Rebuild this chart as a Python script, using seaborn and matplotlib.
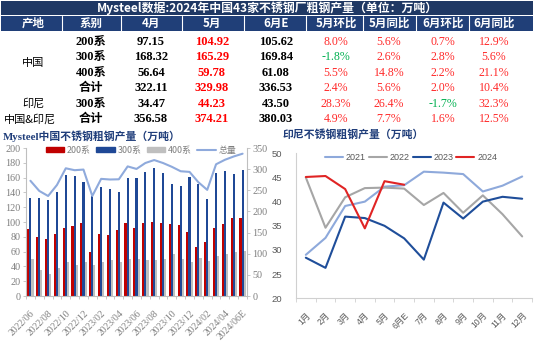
import numpy as np
import pandas as pd
import matplotlib
matplotlib.use("Agg")
import matplotlib.pyplot as plt
import seaborn as sns
from matplotlib.patches import Rectangle, Patch
from matplotlib.lines import Line2D

# ---------------- data ----------------
table_title = "Mysteel数据:2024年中国43家不锈钢厂粗钢产量（单位：万吨）"
table_headers = ["产地", "系别", "4月", "5月", "6月E", "5月环比", "5月同比", "6月环比", "6月同比"]
table_regions = ["中国", "印尼", "中国&印尼"]
table_series = ["200系", "300系", "400系", "合计", "300系", "合计"]
apr_vals = [97.15, 168.32, 56.64, 322.11, 34.47, 356.58]
may_vals = [104.92, 165.29, 59.78, 329.98, 44.23, 374.21]
jun_vals = [105.62, 169.84, 61.08, 336.53, 43.50, 380.03]
may_mom = [8.0, -1.8, 5.5, 2.4, 28.3, 4.9]
may_yoy = [5.6, 2.6, 14.8, 5.6, 26.4, 7.7]
jun_mom = [0.7, 2.8, 2.2, 2.0, -1.7, 1.6]
jun_yoy = [12.9, 5.6, 21.1, 10.4, 32.3, 12.5]

cn_title = "Mysteel中国不锈钢粗钢产量（万吨）"
cn_months = ["2022/06", "2022/07", "2022/08", "2022/09", "2022/10", "2022/11", "2022/12",
             "2023/01", "2023/02", "2023/03", "2023/04", "2023/05", "2023/06", "2023/07",
             "2023/08", "2023/09", "2023/10", "2023/11", "2023/12", "2024/01", "2024/02",
             "2024/03", "2024/04", "2024/05", "2024/06E"]
cn_200 = [90, 80, 77, 84, 92.5, 94.5, 98, 60, 84, 83, 89.5, 98, 92, 98, 100, 98, 97, 96.5,
          87, 66, 73, 91.5, 97.15, 104.92, 105.62]
cn_300 = [133, 133, 130, 140, 164, 161.5, 154.5, 135, 147, 144, 140, 159, 159, 168, 173, 166,
          152, 148, 161, 152, 131, 166, 168.32, 165.29, 169.84]
cn_400 = [49.5, 35.5, 29.5, 38.5, 45.5, 41.5, 46.5, 41.5, 46, 48.5, 46.5, 49.5, 49.5, 48.5,
          48.5, 50.5, 56.5, 50.5, 45.5, 51, 47, 54, 56.64, 59.78, 61.08]
cn_total = [272.5, 248.5, 236.5, 262.5, 302, 297.5, 299, 236.5, 277, 275.5, 276, 306.5, 300.5,
            314.5, 321.5, 314.5, 305.5, 295, 293.5, 269, 251, 311.5, 322.11, 329.98, 336.53]
cn_series = ["200系", "300系", "400系"]
cn_line_label = "总量"

id_title = "印尼不锈钢粗钢产量（万吨）"
id_months = ["1月", "2月", "3月", "4月", "5月", "6月E", "7月", "8月", "9月", "10月", "11月", "12月"]
id_years = ["2021", "2022", "2023", "2024"]
id_2021 = [29.0, 32.5, 39.1, 40.0, 43.1, 43.4, 46.2, 46.0, 45.7, 42.1, 43.3, 45.2]
id_2022 = [45.0, 34.6, 40.9, 42.8, 42.9, 42.7, 39.3, 41.8, 37.7, 41.3, 37.4, 32.8]
id_2023 = [28.4, 26.3, 36.9, 36.6, 35.0, 32.4, 28.0, 39.8, 36.5, 40.0, 41.0, 40.6]
id_2024 = [45.1, 45.3, 42.6, 34.47, 44.23, 43.50]

# ---------------- style ----------------
sns.set_theme(style="white")
CJK = ["Noto Sans CJK SC", "DejaVu Sans"]
SERIF = ["Liberation Serif", "Noto Sans CJK SC"]
SANS = ["Liberation Sans", "Noto Sans CJK SC"]
plt.rcParams["font.family"] = CJK

NAVY_T = "#1F3864"
NAVY_H = "#203F78"
TITLE_BLUE = "#1F3D7A"
RED = "#C00000"
BLUE = "#1F4896"
GRAY = "#BFBFBF"
LINE_BLUE = "#8FAADC"
TXT_GRAY = "#7F7F7F"
AX_GRAY = "#BFBFBF"

W, H = 534, 343
fig = plt.figure(figsize=(W / 100, H / 100), dpi=100)


def fx(x):
    return x / W


def fy(y):
    return 1 - y / H


def rect(x0, y0, x1, y1, color):
    fig.add_artist(Rectangle((fx(x0), fy(y1)), fx(x1) - fx(x0), fy(y0) - fy(y1),
                             transform=fig.transFigure, facecolor=color,
                             edgecolor="none", zorder=0))


def ftext(x, y, s, **kw):
    kw.setdefault("ha", "center")
    kw.setdefault("va", "center")
    fig.text(fx(x), fy(y), s, **kw)


# ---------------- table ----------------
rect(1, 0.5, 533, 14.5, NAVY_T)
rect(1, 15.5, 533, 31, NAVY_H)
ftext(267, 7.8, table_title, color="white", fontsize=8.6, fontweight="bold", family=CJK)

col_x = [33, 91, 151, 212, 276, 336, 389, 443, 494]
sep_x = [62, 121, 181.5, 244, 306, 362.5, 416, 468.5]
for sx in sep_x:
    fig.add_artist(Line2D([fx(sx), fx(sx)], [fy(15.5), fy(31)], color="white", lw=0.8,
                          transform=fig.transFigure))
for cx, h in zip(col_x, table_headers):
    ftext(cx, 23.3, h, color="white", fontsize=8.3, fontweight="bold", family=CJK)

row_y = [41.8, 57.3, 72.8, 88.3, 103.8, 119.3]
ftext(col_x[0], 63.3, table_regions[0], color="black", fontsize=8, family=CJK)
ftext(col_x[0], row_y[4], table_regions[1], color="black", fontsize=8, family=CJK)
ftext(col_x[0] - 3, row_y[5], table_regions[2], color="black", fontsize=8, family=CJK)

PCT_RED = "#FF2A2A"
PCT_GREEN = "#00B050"
for i, ry in enumerate(row_y):
    ftext(col_x[1], ry, table_series[i], color="black", fontsize=8.8, fontweight="bold", family=SERIF)
    ftext(col_x[2], ry, f"{apr_vals[i]:.2f}", color="black", fontsize=9, fontweight="bold", family=SERIF)
    ftext(col_x[3], ry, f"{may_vals[i]:.2f}", color="#FF0000", fontsize=9, fontweight="bold", family=SERIF)
    ftext(col_x[4], ry, f"{jun_vals[i]:.2f}", color="black", fontsize=9, fontweight="bold", family=SERIF)
    for cx, arr in zip(col_x[5:], [may_mom, may_yoy, jun_mom, jun_yoy]):
        v = arr[i]
        ftext(cx, ry, f"{v:.1f}%", color=PCT_GREEN if v < 0 else PCT_RED, fontsize=8.6, family=SERIF)

# ---------------- left chart ----------------
ftext(3, 136, cn_title, ha="left", color=TITLE_BLUE, fontsize=7.8, fontweight="bold", family=SERIF)

ax1 = fig.add_axes([fx(26), fy(296), (247 - 26) / W, (296 - 148) / H])
df_bar = pd.DataFrame({
    "月份": cn_months * 3,
    "产量": cn_200 + cn_300 + cn_400,
    "系列": [cn_series[0]] * len(cn_months) + [cn_series[1]] * len(cn_months) + [cn_series[2]] * len(cn_months),
})
sns.barplot(data=df_bar, x="月份", y="产量", hue="系列", order=cn_months, hue_order=cn_series,
            palette=[RED, BLUE, GRAY], width=0.72, saturation=1, errorbar=None,
            legend=False, ax=ax1, linewidth=0)
ax1.set_xlim(-0.5, len(cn_months) - 0.5)
ax1.set_ylim(0, 200)
ax1.set_yticks(np.arange(0, 201, 20))
ax1.set_xticks(np.arange(0, len(cn_months), 2))
ax1.set_xticklabels(cn_months[::2], rotation=45, ha="right", rotation_mode="anchor")
ax1.set_xticks(np.arange(-0.5, len(cn_months), 1), minor=True)
ax1.set_xlabel("")
ax1.set_ylabel("")
for s in ["top", "right"]:
    ax1.spines[s].set_visible(False)
for s in ["left", "bottom"]:
    ax1.spines[s].set_color(AX_GRAY)
    ax1.spines[s].set_linewidth(0.8)
ax1.tick_params(axis="y", left=True, length=2.5, width=0.6, color=AX_GRAY, labelcolor=TXT_GRAY,
                labelsize=7.3, pad=1.5)
ax1.tick_params(axis="x", which="major", bottom=False, labelcolor=TXT_GRAY, labelsize=7, pad=3)
ax1.tick_params(axis="x", which="minor", bottom=True, length=2.5, width=0.6, color=AX_GRAY)
for lb in ax1.get_xticklabels() + ax1.get_yticklabels():
    lb.set_fontfamily(SERIF)
ax1.grid(False)

ax2 = ax1.twinx()
sns.lineplot(x=np.arange(len(cn_months)), y=cn_total, ax=ax2, color=LINE_BLUE, linewidth=1.5)
ax2.set_ylim(0, 350)
ax2.set_yticks(np.arange(0, 351, 50))
ax2.set_xlim(-0.5, len(cn_months) - 0.5)
for s in ["top", "left", "bottom"]:
    ax2.spines[s].set_visible(False)
ax2.spines["right"].set_color(AX_GRAY)
ax2.spines["right"].set_linewidth(0.8)
ax2.tick_params(axis="y", right=True, length=2.5, width=0.6, color=AX_GRAY, labelcolor=TXT_GRAY,
                labelsize=7.3, pad=1.5)
for lb in ax2.get_yticklabels():
    lb.set_fontfamily(SERIF)
ax2.grid(False)
ax2.set_ylabel("")

handles = [Patch(color=RED), Patch(color=BLUE), Patch(color=GRAY),
           Line2D([0], [0], color=LINE_BLUE, lw=1.5)]
leg = ax2.legend(handles, cn_series + [cn_line_label], loc="center", bbox_to_anchor=(0.52, 0.985),
                 ncol=4, frameon=False, fontsize=6.4, handlelength=2.1, handleheight=0.45,
                 columnspacing=0.6, handletextpad=0.3, borderaxespad=0)
for t in leg.get_texts():
    t.set_color(TXT_GRAY)

# ---------------- right chart ----------------
ftext(283, 135, id_title, ha="left", color=TITLE_BLUE, fontsize=7.8, fontweight="bold", family=CJK)

ax3 = fig.add_axes([fx(296), fy(298.3), (532 - 296) / W, (298.3 - 153.3) / H])
year_vals = [id_2021, id_2022, id_2023, id_2024]
df_id = pd.DataFrame({
    "idx": np.concatenate([np.arange(len(v)) for v in year_vals]),
    "产量": np.concatenate([np.array(v, dtype=float) for v in year_vals]),
    "年份": np.concatenate([[y] * len(v) for y, v in zip(id_years, year_vals)]),
})
id_colors = ["#8EA9DB", "#A6A6A6", "#1F4E9A", "#E02424"]
sns.lineplot(data=df_id, x="idx", y="产量", hue="年份", hue_order=id_years, palette=id_colors,
             linewidth=1.5, ax=ax3, legend=False)
ax3.set_xlim(-0.5, len(id_months) - 0.5)
ax3.set_ylim(20, 50)
ax3.set_yticks(np.arange(20, 51, 5))
ax3.set_xticks(np.arange(len(id_months)))
ax3.set_xticklabels(id_months, rotation=45, ha="right", rotation_mode="anchor")
ax3.set_xticks(np.arange(-0.5, len(id_months), 1), minor=True)
ax3.set_xlabel("")
ax3.set_ylabel("")
for s in ["top", "right"]:
    ax3.spines[s].set_visible(False)
for s in ["left", "bottom"]:
    ax3.spines[s].set_color("#D0D0D0")
    ax3.spines[s].set_linewidth(0.8)
ax3.tick_params(axis="y", left=False, labelcolor="#595959", labelsize=6.8, pad=4)
ax3.tick_params(axis="x", which="major", bottom=False, labelcolor="#595959", labelsize=6.2, pad=3)
ax3.tick_params(axis="x", which="minor", bottom=True, length=3, width=0.6, color="#D0D0D0")
for lb in ax3.get_xticklabels() + ax3.get_yticklabels():
    lb.set_fontfamily(SANS)
ax3.grid(False)

id_handles = [Line2D([0], [0], color=c, lw=1.5) for c in id_colors]
leg3 = ax3.legend(id_handles, id_years, loc="center", bbox_to_anchor=(0.487, 0.972), ncol=4,
                  frameon=False, handlelength=2.0, columnspacing=0.35,
                  handletextpad=0.3, borderaxespad=0, prop={"family": SANS, "size": 6.5})
for t in leg3.get_texts():
    t.set_color("#595959")

fig.savefig("out.png", dpi=100)
